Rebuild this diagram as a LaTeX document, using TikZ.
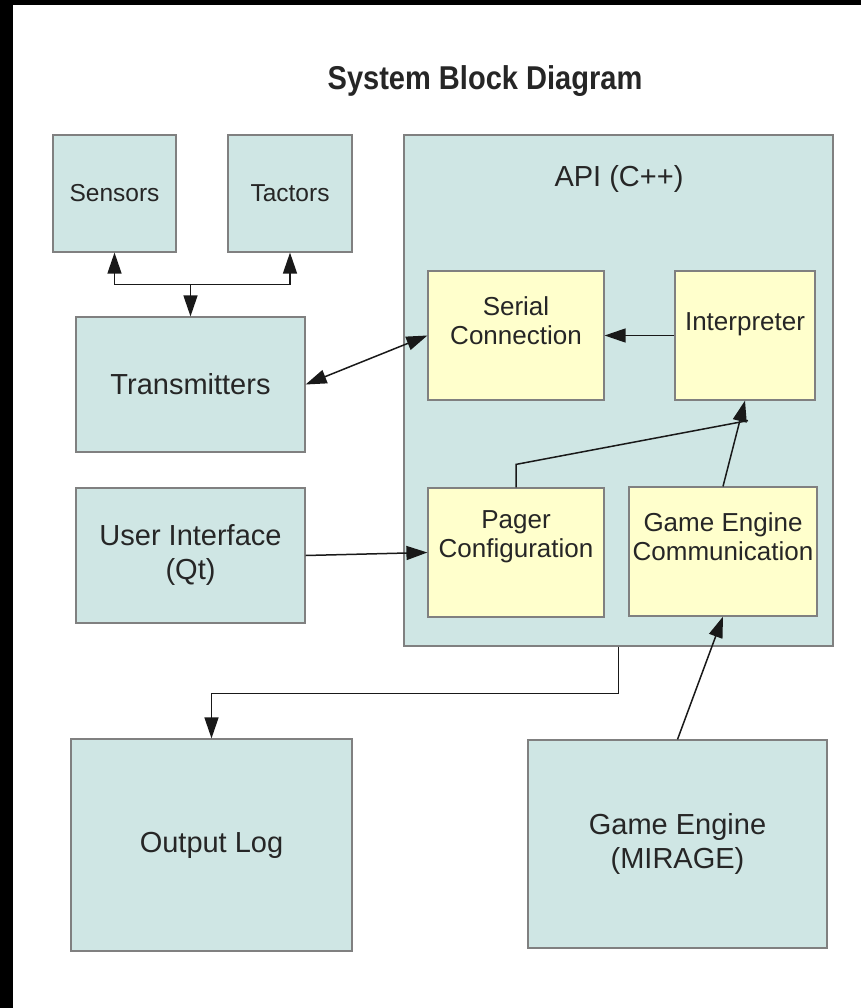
\documentclass[tikz,border=0pt]{standalone}
\usepackage{fontspec}
\setmainfont{Liberation Sans}
\newfontfamily\sbtitlefont[FakeStretch=0.88]{Liberation Sans}
\usepackage{tikz}
\usetikzlibrary{arrows.meta,positioning,calc}
\definecolor{sbteal}{RGB}{207,230,228}
\definecolor{sbyellow}{RGB}{255,255,204}
\definecolor{sbframe}{RGB}{128,128,128}
\tikzset{
  sbblock/.style={
    rectangle, draw=sbframe, fill=sbteal, line width=1.2pt,
    inner sep=0pt, align=center, text=black!85,
    font=\fontsize{29}{34}\selectfont
  },
  sbsmall/.style={sbblock,font=\fontsize{24.5}{29}\selectfont},
  sbinner/.style={sbblock,fill=sbyellow},
  sbtext/.style={align=center,text=black!85,inner sep=0pt,font=\fontsize{26}{29}\selectfont},
  sbtitle/.style={text=black!85,inner sep=0pt,font=\sbtitlefont\bfseries\fontsize{33}{38}\selectfont},
  sbedge/.style={-{Triangle[length=21pt,width=14pt]},line width=1.5pt,draw=black!90},
  sbboth/.style={sbedge,{Triangle[length=21pt,width=14pt]}-{Triangle[length=21pt,width=14pt]}},
  sbline/.style={line width=1.5pt,draw=black!90}
}

\begin{document}
\begin{tikzpicture}[x=1pt,y=-1pt]
  \useasboundingbox (0,0) rectangle (861,1008);
  \fill[black] (0,0) rectangle (861,1008);
  \fill[white] (13,5) rectangle (861,1008);

  \node[sbtitle,anchor=base] (title) at (485,90) {System Block Diagram};

  % left column
  \node[sbsmall,minimum width=123pt,minimum height=117pt] (sen) at (114.5,193.5) {Sensors};
  \node[sbsmall,minimum width=124pt,minimum height=117pt] (tac) at (290,193.5) {Tactors};
  \node[sbblock,minimum width=229pt,minimum height=135pt] (tra) at (190.5,384.5) {Transmitters};
  \node[sbblock,minimum width=229pt,minimum height=135pt] (ui) at (190.5,555.5) {User Interface\\(Qt)};

  % API with its parts
  \node[sbblock,minimum width=429pt,minimum height=511pt] (api) at (618.5,390.5) {};
  \node[sbtext,font=\fontsize{29}{34}\selectfont,anchor=base] (apitxt) at (619,187) {API (C++)};
  \node[sbinner,minimum width=176pt,minimum height=129pt] (ser) at (516,335.5) {};
  \node[sbinner,minimum width=140pt,minimum height=129pt] (int) at (745,335.5) {};
  \node[sbinner,minimum width=176pt,minimum height=129pt] (pag) at (516,552.5) {};
  \node[sbinner,minimum width=188pt,minimum height=129pt] (gec) at (723,551.5) {};
  \node[sbtext] (sertxt) at (516,321) {Serial\\Connection};
  \node[sbtext,anchor=base] (inttxt) at (745,330) {Interpreter};
  \node[sbtext] (pagtxt) at (516,537) {Pager\\Configuration};
  \node[sbtext] (gectxt) at (723,537) {Game Engine\\Communication};

  % bottom row
  \node[sbblock,minimum width=281pt,minimum height=212pt] (out) at (211.5,845) {Output Log};
  \node[sbblock,minimum width=299pt,minimum height=208pt] (gam) at (677.5,844) {Game Engine\\(MIRAGE)};

  % connectors
  \coordinate (jn) at ($(tra.north)+(0,-32)$);
  \draw[sbedge] (jn) -- (tra.north);
  \draw[sbedge] (jn) -| (sen.south);
  \draw[sbedge] (jn) -| (tac.south);
  \draw[sbboth] (tra.east) -- (ser.west);
  \draw[sbedge] (int.west) -- (ser.east);
  \draw[sbedge] (ui.east) -- (pag.west);
  \draw[sbedge] (gec.north) -- (int.south);
  \coordinate (bend) at ($(pag.north)+(0,-23)$);
  \coordinate (pgend) at ($(int.south)+(3,20)$);
  \draw[sbline] (pag.north) -- (bend) -- (pgend);
  \draw[sbedge] (api.south) -- ++(0,47) -| (out.north);
  \draw[sbedge] (gam.north) -- (gec.south);
\end{tikzpicture}
\end{document}
